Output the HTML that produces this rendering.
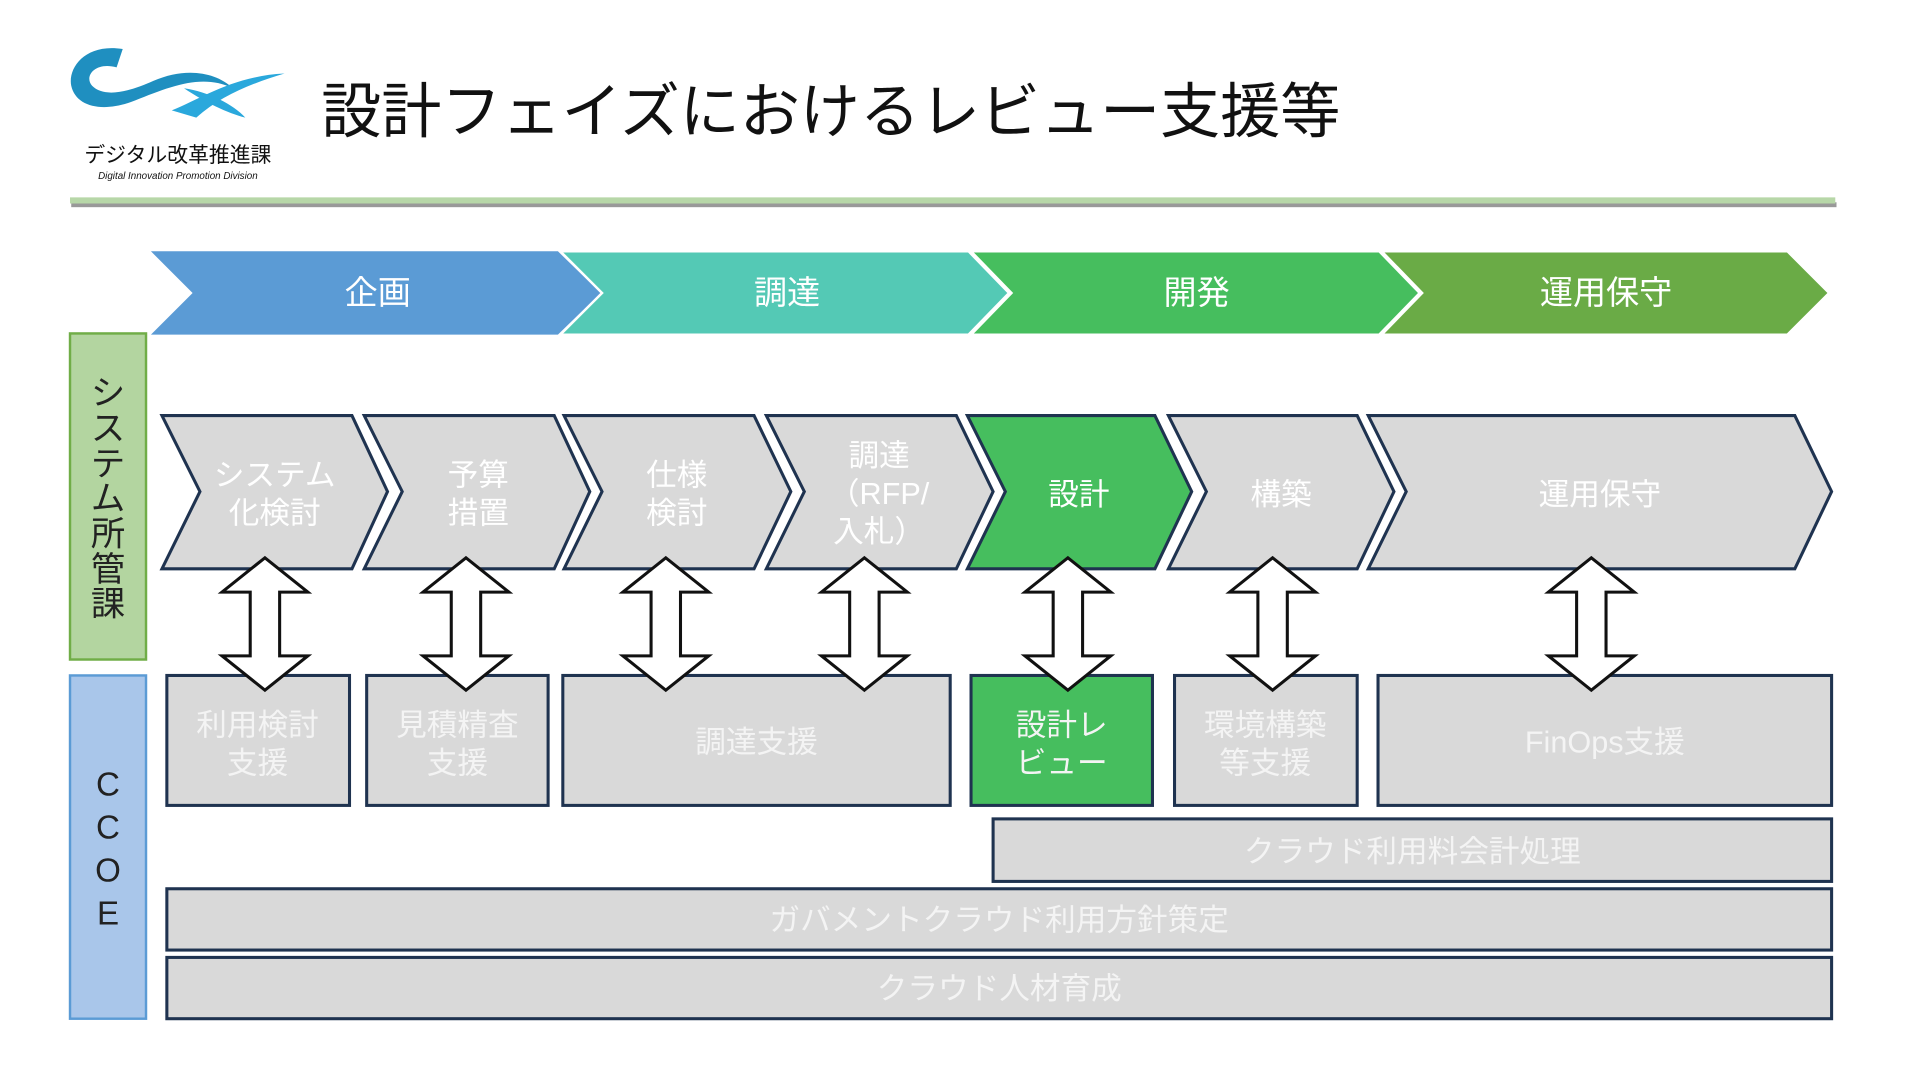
<!DOCTYPE html>
<html><head><meta charset="utf-8"><style>
html,body{margin:0;padding:0;background:#fff;}
svg{display:block;}
text{font-family:"Liberation Sans","Noto Sans CJK JP",sans-serif;}
</style></head><body>
<svg width="1920" height="1080" viewBox="0 0 1566 881" xmlns="http://www.w3.org/2000/svg">
<rect width="1566" height="881" fill="#fff"/>
<!-- logo -->
<path d="M100,40 C70,35 55,55 58,70 C62,88 85,92 110,82 C140,70 165,60 190,72 C175,58 150,55 125,66 C105,75 85,80 75,70 C68,62 78,50 95,55 Z" fill="#1f8fc0"/>
<path d="M140,90 C165,80 190,62 232,60 C205,68 180,78 160,96 Z" fill="#2aa8dc"/>
<path d="M150,72 C170,75 190,85 200,96 C185,92 168,84 150,72 Z" fill="#2aa8dc"/>
<text x="145" y="132" font-size="17" text-anchor="middle" fill="#111">デジタル改革推進課</text>
<text x="145" y="146" font-size="8" font-style="italic" text-anchor="middle" fill="#111">Digital Innovation Promotion Division</text>
<!-- title -->
<text x="262" y="108" font-size="49" fill="#111">設計フェイズにおけるレビュー支援等</text>
<!-- line -->
<rect x="58" y="165" width="1440" height="4" fill="#555" opacity="0.6"/>
<rect x="57" y="161" width="1440" height="5" fill="#b7d7a8"/>
<!-- phases -->
<polygon points="123,205 455,205 490,239 455,273 123,273 157,239" fill="#5b9bd5"/>
<polygon points="457,205 790,205 823,239 790,273 457,273 491,239" fill="#54c9b5" stroke="#fff" stroke-width="2"/>
<polygon points="792,205 1125,205 1158,239 1125,273 792,273 825,239" fill="#46be5e" stroke="#fff" stroke-width="2"/>
<polygon points="1127,205 1458,205 1492,239 1458,273 1127,273 1160,239" fill="#6aab46" stroke="#fff" stroke-width="2"/>
<g fill="#fff" font-size="27" text-anchor="middle">
<text x="308" y="248">企画</text><text x="642" y="248">調達</text><text x="976" y="248">開発</text><text x="1310" y="248">運用保守</text>
</g>
<!-- side labels -->
<rect x="57" y="272" width="62" height="266" fill="#b3d5a0" stroke="#70ad47" stroke-width="2"/>
<g font-size="28" fill="#222" text-anchor="middle">
<text x="88" y="330">シ</text><text x="88" y="359">ス</text><text x="88" y="388">テ</text><text x="88" y="416">ム</text><text x="88" y="445">所</text><text x="88" y="474">管</text><text x="88" y="502">課</text>
</g>
<rect x="57" y="551" width="62" height="280" fill="#a9c6ea" stroke="#5b9bd5" stroke-width="2"/>
<g font-size="27" fill="#222" text-anchor="middle"><text x="88" y="649">C</text><text x="88" y="684">C</text><text x="88" y="719">O</text><text x="88" y="754">E</text></g>
<!-- process chevrons -->
<g stroke="#1f3350" stroke-width="2.5" stroke-linejoin="miter">
<polygon points="132,339 287,339 316,401 287,464 132,464 163,401" fill="#d9d9d9"/>
<polygon points="297,339 452,339 481,401 452,464 297,464 328,401" fill="#d9d9d9"/>
<polygon points="460,339 615,339 645,401 615,464 460,464 491,401" fill="#d9d9d9"/>
<polygon points="625,339 780,339 810,401 780,464 625,464 656,401" fill="#d9d9d9"/>
<polygon points="789,339 942,339 972,401 942,464 789,464 820,401" fill="#46be5e"/>
<polygon points="953,339 1107,339 1137,401 1107,464 953,464 984,401" fill="#d9d9d9"/>
<polygon points="1116,339 1464,339 1494,401 1464,464 1116,464 1147,401" fill="#d9d9d9"/>
</g>
<g fill="#fff" font-size="25" text-anchor="middle">
<text x="224" y="396">システム</text><text x="224" y="427">化検討</text>
<text x="390" y="396">予算</text><text x="390" y="427">措置</text>
<text x="552" y="396">仕様</text><text x="552" y="427">検討</text>
<text x="717" y="380">調達</text><text x="717" y="411">（RFP/</text><text x="717" y="442">入札）</text>
<text x="880" y="412">設計</text>
<text x="1045" y="412">構築</text>
<text x="1305" y="412">運用保守</text>
</g>
<!-- bottom boxes -->
<g stroke="#1f3350" stroke-width="2.5">
<rect x="136" y="551" width="149" height="106" fill="#d9d9d9"/>
<rect x="299" y="551" width="148" height="106" fill="#d9d9d9"/>
<rect x="459" y="551" width="316" height="106" fill="#d9d9d9"/>
<rect x="792" y="551" width="148" height="106" fill="#46be5e"/>
<rect x="958" y="551" width="149" height="106" fill="#d9d9d9"/>
<rect x="1124" y="551" width="370" height="106" fill="#d9d9d9"/>
<rect x="810" y="668" width="684" height="51" fill="#d9d9d9"/>
<rect x="136" y="725" width="1358" height="50" fill="#d9d9d9"/>
<rect x="136" y="781" width="1358" height="50" fill="#d9d9d9"/>
</g>
<!-- double arrows -->
<g fill="#fff" stroke="#111" stroke-width="2.5" stroke-linejoin="miter">
<path d="M0,-54 L35,-26 L12,-26 L12,26 L35,26 L0,54 L-35,26 L-12,26 L-12,-26 L-35,-26 Z" transform="translate(216,509)"/>
<path d="M0,-54 L35,-26 L12,-26 L12,26 L35,26 L0,54 L-35,26 L-12,26 L-12,-26 L-35,-26 Z" transform="translate(380,509)"/>
<path d="M0,-54 L35,-26 L12,-26 L12,26 L35,26 L0,54 L-35,26 L-12,26 L-12,-26 L-35,-26 Z" transform="translate(543,509)"/>
<path d="M0,-54 L35,-26 L12,-26 L12,26 L35,26 L0,54 L-35,26 L-12,26 L-12,-26 L-35,-26 Z" transform="translate(705,509)"/>
<path d="M0,-54 L35,-26 L12,-26 L12,26 L35,26 L0,54 L-35,26 L-12,26 L-12,-26 L-35,-26 Z" transform="translate(871,509)"/>
<path d="M0,-54 L35,-26 L12,-26 L12,26 L35,26 L0,54 L-35,26 L-12,26 L-12,-26 L-35,-26 Z" transform="translate(1038,509)"/>
<path d="M0,-54 L35,-26 L12,-26 L12,26 L35,26 L0,54 L-35,26 L-12,26 L-12,-26 L-35,-26 Z" transform="translate(1298,509)"/>
</g>
<g fill="#f4f4f4" font-size="25" text-anchor="middle">
<text x="210" y="600">利用検討</text><text x="210" y="631">支援</text>
<text x="373" y="600">見積精査</text><text x="373" y="631">支援</text>
<text x="617" y="614">調達支援</text>
<text x="866" y="600">設計レ</text><text x="866" y="631">ビュー</text>
<text x="1032" y="600">環境構築</text><text x="1032" y="631">等支援</text>
<text x="1309" y="614">FinOps支援</text>
<text x="1152" y="703">クラウド利用料会計処理</text>
<text x="815" y="759">ガバメントクラウド利用方針策定</text>
<text x="815" y="815">クラウド人材育成</text>
</g>
</svg>
</body></html>
